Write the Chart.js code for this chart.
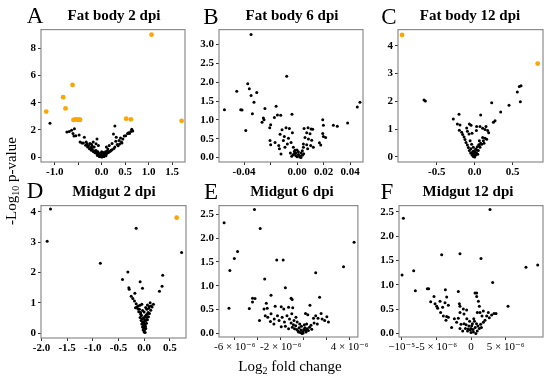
<!DOCTYPE html>
<html>
<head>
<meta charset="utf-8">
<script src="https://cdn.jsdelivr.net/npm/chart.js@4.4.1/dist/chart.umd.min.js"></script>
<style>
  html, body { margin: 0; padding: 0; background: #fff; }
  #wrap { position: relative; width: 550px; height: 380px; overflow: hidden; font-family: "Liberation Serif", "DejaVu Serif", serif; }
  #wrap canvas { position: absolute; }
  .txt { position: absolute; transform: translate(-50%, -50%); white-space: nowrap; color: #000; line-height: 1; }
  .letter { font-size: 23px; }
  .title { font-size: 15px; font-weight: bold; }
  .axlab { font-size: 15px; }
  sub { font-size: 10px; vertical-align: -3px; line-height: 0; }
</style>
</head>
<body>
<div id="wrap"></div>
<script>
// ---- data: [log2 fold change, -log10 p] ----
const fat2Orange = [[-1.18,3.35],[-0.82,4.41],[-0.77,3.58],[-0.62,5.31],[-0.60,2.74],[-0.56,2.78],[-0.52,2.76],[-0.49,2.76],[-0.46,2.75],[0.52,2.83],[0.62,2.78],[1.06,9.0],[1.70,2.67]];
const fat2Black = [[-1.10,2.5],[-0.74,1.86],[-0.69,1.89],[-0.64,1.98],[-0.58,2.1],[-0.61,1.75],[-0.55,1.58],[-0.48,1.63],[-0.59,1.56],
  [-0.37,1.46],[-0.33,1.11],[-0.39,1.04],[-0.31,0.99],[-0.28,0.85],[-0.18,1.11],[-0.10,1.34],[-0.16,0.75],[-0.12,0.99],[-0.07,0.87],
  [-0.23,0.71],[-0.20,0.59],[-0.14,0.47],[-0.11,0.38],[-0.08,0.28],[-0.045,0.17],[-0.02,0.07],[0,0.02],
  [0.28,2.29],[0.25,1.70],[0.31,1.46],[0.37,1.23],[0.45,1.34],[0.51,1.58],[0.59,1.75],[0.66,1.93],[0.64,2.05],[0.55,1.75],
  [0.42,1.11],[0.33,0.94],[0.28,0.75],[0.20,0.52],[0.13,0.33],[0.07,0.17],[0.10,0.75],[0.16,0.87],[0.04,0.28],[0.13,0.61],
  [0.22,1.01],[0.30,1.18],[0.40,1.42],[0.48,1.56],[0.57,1.79],[0.62,1.89],
  [-0.26,0.62],[-0.22,0.52],[-0.18,0.42],[-0.14,0.33],[-0.10,0.24],[-0.06,0.14],[-0.03,0.06],[0.03,0.08],[0.06,0.14],[0.10,0.24],
  [0.14,0.34],[0.18,0.44],[0.22,0.55],[0.26,0.65],[0.01,0.03],[-0.01,0.10],[0.02,0.18],[-0.04,0.22],[0.05,0.30],[-0.12,0.50],
  [0.12,0.45],[-0.30,0.75],[-0.34,0.88],[-0.42,1.05],[-0.46,1.12],[0.35,0.85],[0.38,0.97],[0.43,1.05],[-0.08,0.40],[0.08,0.40],
  [-0.20,0.80],[-0.25,1.00],[-0.22,0.95],[0.0,0.12],[-0.02,0.14],[0.02,0.05],[-0.05,0.05],[0.05,0.06],[-0.07,0.18],[0.07,0.2],
  [0.0,0.25],[-0.03,0.3],[0.03,0.35],[-0.15,0.38],[0.16,0.4],[-0.09,0.12],[0.09,0.1],[0.0,0.4]];

const fat6Black = [[-0.0347,3.27],[-0.0078,2.16],[-0.0455,1.76],[-0.0372,1.96],[-0.036,1.83],[-0.0304,1.73],[-0.0347,1.65],[-0.0325,1.47],
  [-0.0548,1.27],[-0.0425,1.27],[-0.0415,1.26],[-0.0337,1.16],[-0.0387,0.72],[-0.0242,1.30],[-0.0254,1.05],[-0.0249,1.00],[-0.0264,0.94],
  [-0.0158,1.36],[-0.0148,1.13],[-0.0123,1.12],[-0.0171,1.06],[-0.0038,1.15],[-0.0199,0.87],[-0.0206,0.79],[-0.0113,0.74],[-0.0083,0.79],
  [-0.0058,0.77],[-0.0035,0.66],[-0.0128,0.62],[-0.0096,0.56],[-0.0065,0.51],[-0.0204,0.45],[-0.0199,0.34],[-0.0166,0.40],[-0.0138,0.32],
  [-0.0133,0.23],[-0.0121,0.09],[-0.0103,0.45],[-0.0091,0.27],[-0.0073,0.36],[-0.0045,0.40],[-0.0028,0.27],[-0.0015,0.19],
  [-0.001,0.05],[0.0,0.02],[0.001,0.08],[0.002,0.04],[-0.002,0.10],[0.003,0.12],[0.004,0.06],[-0.003,0.07],[0.001,0.15],[0.002,0.01],
  [-0.001,0.12],[0.0,0.20],[0.003,0.0],[0.005,0.10],[-0.004,0.03],[-0.002,0.16],[0.004,0.18],[-0.005,0.12],
  [0.0053,0.77],[0.0083,0.79],[0.0106,0.76],[0.0118,0.75],[0.0073,0.66],[0.0098,0.63],[0.0060,0.53],[0.0086,0.49],[0.0111,0.46],
  [0.0048,0.36],[0.0073,0.34],[0.0103,0.32],[0.0123,0.27],[0.0048,0.27],[0.0080,0.23],[0.0194,1.00],[0.0199,0.86],[0.0194,0.64],
  [0.0199,0.56],[0.0169,0.39],[0.0179,0.33],[0.0216,0.53],[0.0274,0.86],[0.0304,0.83],[0.0382,0.92],[0.0455,1.34],[0.0475,1.47]];

const fat12Orange = [[-0.956,4.39],[0.829,3.36]];
const fat12Black = [[-0.667,2.05],[-0.649,2.01],[-0.206,1.54],[-0.281,1.37],[-0.228,1.19],[-0.193,1.15],[-0.202,0.96],[-0.171,0.89],
  [-0.158,0.81],[-0.140,0.72],[-0.127,0.63],[-0.114,0.52],[-0.096,0.43],[-0.083,0.34],[-0.070,0.23],[-0.053,0.14],[-0.035,0.07],
  [-0.018,0.02],[0.0,0.0],[-0.105,1.04],[-0.070,1.19],[-0.048,1.14],[-0.096,0.93],[-0.075,0.83],[-0.035,0.85],[0.026,1.10],[0.022,0.95],
  [0.079,1.51],[0.070,1.10],[0.105,1.03],[0.136,0.99],[0.171,0.95],[0.184,0.87],[0.149,1.10],[0.224,1.95],[0.246,1.25],[0.268,1.30],
  [0.342,1.62],[0.452,1.86],[0.561,2.34],[0.588,2.53],[0.610,2.56],[0.601,1.99],
  [0.026,0.12],[0.048,0.23],[0.070,0.35],[0.092,0.46],[0.114,0.58],[0.136,0.67],[0.105,0.70],[0.061,0.58],[0.079,0.49],[0.035,0.37],
  [0.013,0.29],[-0.018,0.35],[-0.040,0.46],[-0.060,0.58],[0.005,0.17],[0.053,0.44],[0.123,0.49],[0.158,0.64],[-0.010,0.10],[0.010,0.06],
  [-0.025,0.20],[0.030,0.25],[-0.050,0.30],[0.060,0.40],[0.0,0.08],[-0.005,0.22],[0.02,0.15],[-0.03,0.12],[0.04,0.1]];

const mid2Orange = [[0.634,3.81]];
const mid2Black = [[-1.825,4.10],[-1.89,3.03],[-0.854,2.31],[-0.155,3.46],[0.731,2.66],[-0.317,2.02],[-0.421,1.77],[-0.298,1.50],
  [-0.291,1.45],[-0.078,1.70],[-0.032,1.48],[-0.181,1.32],[0.362,1.91],[0.350,1.55],[0.298,1.38],[-0.252,1.22],[-0.220,1.14],
  [-0.188,1.06],[-0.155,0.97],[-0.168,0.84],[-0.142,0.86],[-0.117,0.90],[-0.091,0.79],[-0.071,0.68],[-0.052,0.58],[-0.039,0.47],
  [-0.026,0.36],[-0.013,0.26],[-0.006,0.15],[0.0,0.04],[0.013,0.12],[0.026,0.22],[0.045,0.33],[0.065,0.44],[0.084,0.54],[0.104,0.65],
  [0.129,0.76],[0.155,0.86],[0.181,0.95],[0.117,1.00],[0.065,0.93],[-0.045,0.95],[-0.104,0.71],[0.052,0.79],[-0.078,0.52],[-0.058,0.42],
  [0.052,0.52],[0.078,0.68],[0.032,0.42],[-0.032,0.20],[0.032,0.15],[0.006,0.31],[-0.02,0.10],[0.02,0.28],[-0.01,0.38],[0.04,0.60],
  [-0.065,0.62],[0.09,0.82],[-0.12,0.80],[0.14,0.90],[0.0,0.2],[-0.015,0.5],[0.015,0.55],[0.0,0.7],[-0.03,0.75],[0.03,0.85],
  [0.1,0.88],[-0.08,0.92],[0.06,0.62],[-0.045,0.3],[0.01,0.45],[0.02,0.02]];

// fold changes of the 6 and 12 dpi midgut panels are in units of 1e-6
const mid6Black = [[-4.29,2.60],[-6.93,2.32],[-3.79,2.20],[-5.76,1.72],[-6.04,1.57],[-6.43,1.32],[-6.51,0.53],[-2.35,1.54],[-1.79,1.54],
  [-3.40,1.14],[-1.60,0.96],[1.04,1.27],[3.46,1.40],[4.38,1.91],[1.38,0.76],[-2.85,0.80],[-4.46,0.74],[-4.24,0.73],[-4.46,0.66],
  [-4.74,0.52],[-1.10,0.74],[-1.01,0.71],[-3.26,0.63],[-3.18,0.53],[-3.46,0.51],[-2.49,0.57],[-1.96,0.56],[-1.74,0.51],[-1.32,0.55],
  [-0.96,0.54],[0.54,0.59],[0.15,0.42],[0.35,0.39],[-3.85,0.27],[-3.35,0.37],[-3.13,0.34],[-2.85,0.41],[-2.57,0.30],[-2.29,0.37],
  [-2.15,0.27],[-1.88,0.34],[-1.68,0.24],[-1.46,0.37],[-1.24,0.30],[-1.04,0.41],[-0.85,0.27],[-0.68,0.34],[-0.57,0.24],[1.04,0.37],
  [1.24,0.32],[1.51,0.42],[1.60,0.30],[1.82,0.27],[2.01,0.35],[2.15,0.24],[1.18,0.20],[0.90,0.22],[0.63,0.17],[-1.96,0.14],[-1.60,0.15],
  [-1.32,0.10],[-0.5,0.05],[-0.3,0.02],[-0.1,0.04],[0.0,0.08],[0.2,0.03],[0.1,0.12],[-0.4,0.12],[-0.2,0.15],[0.3,0.10],[-0.6,0.08],
  [-0.8,0.10],[0.4,0.06],[-0.15,0.0],[0.05,0.18],[-0.35,0.20],[0.25,0.20],[-0.7,0.16],[-1.0,0.13],[0.5,0.13],[0.7,0.09],[-0.25,0.07],
  [-0.05,0.01],[0.15,0.06],[-0.45,0.03],[-2.6,0.20],[-2.9,0.25],[-1.1,0.22],[0.85,0.32],[-0.9,0.18]];

const mid12Black = [[2.74,2.55],[-9.76,2.37],[-1.59,1.64],[-4.23,1.62],[1.44,1.54],[-9.95,1.20],[-8.27,1.29],[3.13,1.05],[7.93,1.36],
  [9.62,1.41],[-8.03,0.88],[-6.30,0.92],[-6.11,0.92],[-3.70,0.90],[-1.83,0.86],[5.34,0.56],[-5.82,0.65],[-5.34,0.76],[-5.19,0.61],
  [-4.95,0.56],[-4.81,0.52],[-4.47,0.66],[-4.09,0.54],[-3.75,0.63],[-3.51,0.75],[-3.27,0.58],[-4.38,0.43],[-3.99,0.36],[-3.51,0.35],
  [-3.27,0.33],[-3.61,0.27],[-1.68,0.61],[-1.59,0.56],[-1.59,0.43],[-1.83,0.31],[-2.07,0.23],[-1.11,0.50],[-0.63,0.48],[-1.01,0.40],
  [-1.44,0.19],[-1.59,0.10],[0.58,0.83],[0.82,0.83],[0.82,0.76],[1.06,0.66],[1.20,0.56],[0.91,0.43],[1.30,0.43],[1.59,0.36],[2.02,0.27],
  [1.78,0.46],[2.26,0.36],[2.64,0.32],[2.98,0.38],[3.32,0.41],[3.61,0.41],[2.50,0.43],[1.78,0.23],[1.39,0.19],
  [-0.5,0.05],[0.0,0.02],[0.3,0.08],[0.6,0.12],[-0.3,0.15],[0.9,0.05],[-0.8,0.10],[0.2,0.20],[1.0,0.15],[-0.2,0.25],[0.5,0.25],
  [-1.0,0.20],[0.7,0.0],[-0.6,0.30],[1.2,0.10],[0.4,0.30],[-1.2,0.05],[0.0,0.10],[0.1,0.16],[-0.1,0.07],[0.35,0.03],[-0.4,0.09],
  [0.8,0.20],[-0.7,0.18],[1.5,0.12],[-2.4,0.30],[-2.8,0.12]];

// ---- tick values and labels ----
const fat2XTicks = [-1.0,-0.5,0,0.5,1.0,1.5];
const fat2XLabels = ['-1.0','','0.0','0.5','1.0','1.5'];
const fat2YTicks = [0,2,4,6,8];
const fat6XTicks = [-0.04,-0.02,0,0.02,0.04];
const fat6XLabels = ['-0.04','','0.00','0.02','0.04'];
const fat6YTicks = [0,0.5,1,1.5,2,2.5,3];
const fat12XTicks = [-0.5,0,0.5];
const fat12XLabels = ['-0.5','0.0','0.5'];
const fat12YTicks = [0,1,2,3,4];
const mid2XTicks = [-2,-1.5,-1,-0.5,0,0.5];
const mid2XLabels = ['-2.0','-1.5','-1.0','-0.5','0.0','0.5'];
const mid2YTicks = [0,1,2,3,4];
const mid6XTicks = [-6,-4,-2,0,2,4];
const mid6XLabels = ['-6 \u00d7 10\u207b\u2076','','-2 \u00d7 10\u207b\u2076','','','4 \u00d7 10\u207b\u2076'];
const mid6YTicks = [0,0.5,1,1.5,2,2.5];
const mid12XTicks = [-10,-5,0,5];
const mid12XLabels = ['\u221210\u207b\u2075','-5 \u00d7 10\u207b\u2076','0','5 \u00d7 10\u207b\u2076'];
const mid12YTicks = [0,0.5,1,1.5,2,2.5];

const titles = ['Fat body 2 dpi','Fat body 6 dpi','Fat body 12 dpi','Midgut 2 dpi','Midgut 6 dpi','Midgut 12 dpi'];
const letters = ['A','B','C','D','E','F'];

// ---- layout: plot frame in page pixels and axis ranges ----
const panels = [
  {frame:[41,25,185,162], x:[-1.291,1.772], y:[-0.35,9.37], black:fat2Black, orange:fat2Orange, xt:fat2XTicks, xl:fat2XLabels, yt:fat2YTicks, yd:0, bold:true, letter:[35,15], title:[114,15]},
  {frame:[219,25,363,162], x:[-0.0589,0.0498], y:[-0.12,3.40], black:fat6Black, orange:[], xt:fat6XTicks, xl:fat6XLabels, yt:fat6YTicks, yd:1, bold:true, letter:[211,16], title:[292,15]},
  {frame:[398,25,543,162], x:[-1.009,0.899], y:[-0.18,4.58], black:fat12Black, orange:fat12Orange, xt:fat12XTicks, xl:fat12XLabels, yt:fat12YTicks, yd:0, bold:true, letter:[389,16], title:[470,15]},
  {frame:[41,201,186,338], x:[-2.01,0.816], y:[-0.16,4.21], black:mid2Black, orange:mid2Orange, xt:mid2XTicks, xl:mid2XLabels, yt:mid2YTicks, yd:0, bold:true, letter:[35,190], title:[114,191]},
  {frame:[219,201,364,337], x:[-7.375,4.71], y:[-0.075,2.68], black:mid6Black, orange:[], xt:mid6XTicks, xl:mid6XLabels, yt:mid6YTicks, yd:1, bold:false, letter:[211,191], title:[292,191]},
  {frame:[399,201,543,337], x:[-10.39,10.39], y:[-0.074,2.63], black:mid12Black, orange:[], xt:mid12XTicks, xl:mid12XLabels, yt:mid12YTicks, yd:1, bold:false, letter:[387,191], title:[468,191]}
];

const PAD_L = 40, PAD_T = 4, PAD_R = 6, PAD_B = 22;
const FONT = '"Liberation Serif", "DejaVu Serif", serif';
const wrap = document.getElementById('wrap');

const framePlugin = {
  id: 'frame',
  afterDraw(chart) {
    const {ctx, chartArea: a} = chart;
    ctx.save();
    ctx.strokeStyle = '#8c8c8c';
    ctx.lineWidth = 1.2;
    ctx.strokeRect(a.left, a.top, a.right - a.left, a.bottom - a.top);
    ctx.restore();
  }
};

function addText(cls, html, pos) {
  const d = document.createElement('div');
  d.className = 'txt ' + cls;
  d.innerHTML = html;
  d.style.left = pos[0] + 'px';
  d.style.top = pos[1] + 'px';
  wrap.appendChild(d);
  return d;
}

function toPts(arr) {
  return arr.map(p => ({x: p[0], y: p[1]}));
}

panels.forEach((p, i) => {
  const [l, t, r, b] = p.frame;
  const cv = document.createElement('canvas');
  const W = r - l + PAD_L + PAD_R;
  const H = b - t + PAD_T + PAD_B;
  cv.width = W; cv.height = H;
  cv.style.left = (l - PAD_L) + 'px';
  cv.style.top = (t - PAD_T) + 'px';
  cv.style.width = W + 'px'; cv.style.height = H + 'px';
  wrap.appendChild(cv);

  new Chart(cv, {
    type: 'scatter',
    data: {
      datasets: [
        {data: toPts(p.orange), backgroundColor: '#ffa500', pointRadius: 2.4, borderWidth: 0, clip: 6},
        {data: toPts(p.black), backgroundColor: '#000', pointRadius: 1.5, borderWidth: 0, clip: 6}
      ]
    },
    options: {
      responsive: false,
      animation: false,
      events: [],
      layout: {padding: {left: 0, top: PAD_T, right: PAD_R, bottom: 0}, autoPadding: false},
      plugins: {legend: {display: false}, tooltip: {enabled: false}},
      scales: {
        x: {
          type: 'linear', min: p.x[0], max: p.x[1],
          afterBuildTicks: s => { s.ticks = p.xt.map(v => ({value: v})); },
          afterFit: s => { s.height = PAD_B; },
          ticks: {
            callback: (v, idx) => p.xl[idx],
            font: {family: FONT, size: 11, weight: p.bold ? 'bold' : 'normal'},
            color: '#000', padding: 1, maxRotation: 0, autoSkip: false
          },
          grid: {drawOnChartArea: false, drawTicks: true, tickLength: 3, color: '#333', lineWidth: 1},
          border: {display: false}
        },
        y: {
          type: 'linear', min: p.y[0], max: p.y[1],
          afterBuildTicks: s => { s.ticks = p.yt.map(v => ({value: v})); },
          afterFit: s => { s.width = PAD_L; },
          ticks: {
            callback: v => v.toFixed(p.yd),
            font: {family: FONT, size: 11, weight: 'bold'},
            color: '#000', padding: 2, autoSkip: false
          },
          grid: {drawOnChartArea: false, drawTicks: true, tickLength: 3, color: '#333', lineWidth: 1},
          border: {display: false}
        }
      }
    },
    plugins: [framePlugin]
  });

  addText('letter', letters[i], p.letter);
  addText('title', titles[i], p.title);
});

const yLab = addText('axlab', '-Log<sub>10</sub> p-value', [11, 181]);
yLab.style.transform = 'translate(-50%, -50%) rotate(-90deg)';
addText('axlab', 'Log<sub>2</sub> fold change', [290, 366]);
</script>
</body>
</html>
